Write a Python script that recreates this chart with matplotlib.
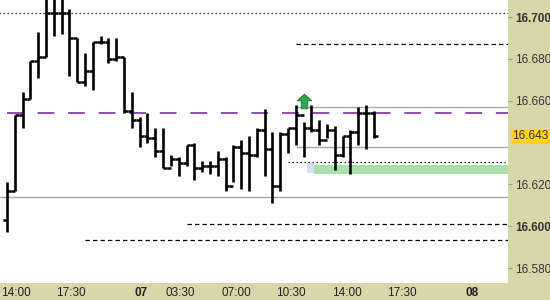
import numpy as np
import matplotlib.pyplot as plt
from matplotlib.path import Path

# OHLC, 30-minute bars
opens = [16.603, 16.617, 16.653, 16.661, 16.679, 16.681, 16.702, 16.702, 16.702, 16.690,
         16.669, 16.674, 16.688, 16.688, 16.680, 16.681, 16.655, 16.651, 16.643, 16.642,
         16.636, 16.628, 16.632, 16.630, 16.639, 16.628, 16.629, 16.629, 16.632, 16.619,
         16.638, 16.635, 16.634, 16.646, 16.637, 16.619, 16.644, 16.647, 16.653, 16.647,
         16.646, 16.641, 16.646, 16.634, 16.643, 16.645, 16.654, 16.654]
highs = [16.621, 16.653, 16.664, 16.679, 16.693, 16.712, 16.712, 16.712, 16.704, 16.690,
         16.683, 16.688, 16.691, 16.690, 16.690, 16.681, 16.664, 16.652, 16.654, 16.647,
         16.647, 16.634, 16.633, 16.639, 16.640, 16.631, 16.631, 16.636, 16.633, 16.639,
         16.641, 16.643, 16.647, 16.656, 16.645, 16.645, 16.647, 16.658, 16.650, 16.658,
         16.651, 16.649, 16.648, 16.643, 16.646, 16.657, 16.658, 16.655]
lows = [16.597, 16.617, 16.647, 16.661, 16.671, 16.681, 16.691, 16.692, 16.672, 16.669,
        16.667, 16.665, 16.687, 16.678, 16.679, 16.654, 16.647, 16.638, 16.640, 16.633,
        16.628, 16.629, 16.624, 16.629, 16.622, 16.626, 16.625, 16.624, 16.617, 16.621,
        16.618, 16.617, 16.633, 16.624, 16.611, 16.617, 16.635, 16.639, 16.633, 16.645,
        16.639, 16.642, 16.627, 16.633, 16.625, 16.639, 16.637, 16.642]
closes = [16.617, 16.653, 16.661, 16.679, 16.681, 16.702, 16.702, 16.702, 16.690, 16.669,
          16.674, 16.688, 16.688, 16.680, 16.681, 16.655, 16.651, 16.643, 16.642, 16.636,
          16.628, 16.632, 16.630, 16.639, 16.628, 16.629, 16.629, 16.632, 16.619, 16.638,
          16.635, 16.634, 16.646, 16.637, 16.619, 16.644, 16.647, 16.653, 16.647, 16.646,
          16.641, 16.646, 16.634, 16.643, 16.645, 16.654, 16.654, 16.643]

x_labels = ['14:00', '17:30', '07', '03:30', '07:00', '10:30', '14:00', '17:30', '08']
x_label_pos = [1.2, 8.2, 17.2, 22.2, 29.4, 36.4, 43.5, 50.6, 59.6]
x_label_bold = [False, False, True, False, False, False, False, False, True]

y_ticks = [16.700, 16.680, 16.660, 16.620, 16.600, 16.580]
y_bold = [True, False, False, False, True, False]
last_price = 16.643

# horizontal levels: price, first bar, style
lvl_price = [16.702, 16.687, 16.657, 16.638, 16.6307, 16.614, 16.601, 16.5934]
lvl_start = [-1.0, 37.0, 37.0, 37.0, 36.0, -1.0, 23.0, 10.0]
lvl_style = ['dot', 'dash', 'gray', 'gray', 'dot', 'gray', 'dash', 'dash']
pivot = 16.6541
zone_low, zone_high, zone_start = 16.6249, 16.6292, 39.4
signal_bar = 38
signal_price = 16.6598

khaki = '#d9d6a9'
x_max = 64.2

plt.rcParams['font.family'] = ['Liberation Sans', 'DejaVu Sans']

fig = plt.figure(figsize=(5.5, 3), dpi=100)
fig.patch.set_facecolor(khaki)
ax = fig.add_axes([0, 17 / 300, 508 / 550, 283 / 300])
ax.set_facecolor('white')
ax.set_xlim(-0.9, x_max)
ax.set_ylim(16.57285, 16.70813)

# levels
for p, s, st in zip(lvl_price, lvl_start, lvl_style):
    if st == 'dot':
        ax.hlines(p, s, x_max, color='black', lw=0.9, linestyles=(0, (1, 2.2)))
    elif st == 'dash':
        ax.hlines(p, s, x_max, color='black', lw=0.9, linestyles=(0, (3.5, 2.5)))
    else:
        ax.hlines(p, s, x_max, color='#a8a8a8', lw=1.0)
ax.hlines(pivot, 0, x_max, color='#6f1d9c', lw=1.1, linestyles=(0, (11, 9)))

ax.fill_between([zone_start - 1.0, zone_start], zone_low + 0.0006, zone_high + 0.001,
                color='#d6e0f5', lw=0)
ax.fill_between([zone_start, x_max], zone_low, zone_high, color='#a9e2a9', lw=0)

# OHLC bars
idx = np.arange(len(closes))
ax.vlines(idx, lows, highs, color='black', lw=1.9)
ax.hlines(opens, idx - 0.5, idx, color='black', lw=1.8)
ax.hlines(closes, idx, idx + 0.5, color='black', lw=1.8)

# signal arrow marker
arrow = Path([(-1.0, 0.1), (0.0, 1.0), (1.0, 0.1), (0.45, 0.1), (0.45, -1.0),
              (-0.45, -1.0), (-0.45, 0.1), (-1.0, 0.1)], closed=True)
ax.plot([signal_bar], [signal_price], marker=arrow, ms=10.5, mfc='#2fa84f',
        mec='#1b6e30', mew=0.6, ls='none')

for sp in ax.spines.values():
    sp.set_visible(False)

ax.set_xticks(x_label_pos)
ax.set_xticklabels(x_labels)
ax.tick_params(axis='x', length=0, pad=3, labelsize=8.5, labelcolor='#222222')
for lab, b in zip(ax.get_xticklabels(), x_label_bold):
    if b:
        lab.set_fontweight('bold')

ax.yaxis.tick_right()
ax.set_yticks(y_ticks)
ax.set_yticklabels(['%.3f' % v for v in y_ticks])
ax.tick_params(axis='y', length=3, width=0.8, color='#999999', pad=2,
               labelsize=8.5, labelcolor='#333333')
for lab, b in zip(ax.get_yticklabels(), y_bold):
    if b:
        lab.set_fontweight('bold')

ax.text(1.008, last_price, '%.3f' % last_price, transform=ax.get_yaxis_transform(),
        ha='left', va='center', fontsize=8.5, color='#333333',
        bbox=dict(boxstyle='square,pad=0.12', fc='#ffd21f', ec='none'))

fig.savefig('out.png', dpi=100, facecolor=fig.get_facecolor())
